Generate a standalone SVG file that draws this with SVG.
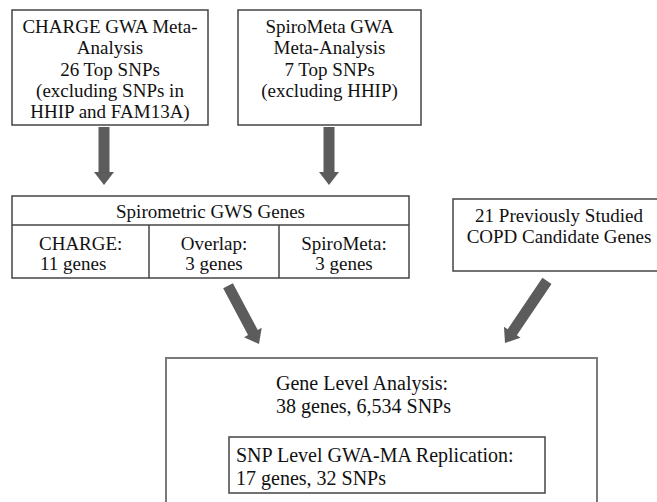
<svg xmlns="http://www.w3.org/2000/svg" width="657" height="502" viewBox="0 0 657 502">
<defs>
<style>
.box{fill:#fff;stroke:#444;stroke-width:1.5}
.box2{fill:#fff;stroke:#7a7a7a;stroke-width:2}
.t{font-family:"Liberation Serif","Times New Roman",serif;font-size:19px;fill:#111}
.tb{font-family:"Liberation Serif","Times New Roman",serif;font-size:20px;fill:#111}
.c{text-anchor:middle}
.arrow{fill:#5c5c5c}
</style>
<polygon id="arr" points="0,0 -10,-13 -5.5,-13 -5.5,-58 5.5,-58 5.5,-13 10,-13"/>
<polygon id="arrL" points="0,0 -10,-13 -5.5,-13 -5.5,-66 5.5,-66 5.5,-13 10,-13"/>
<polygon id="arrM" points="0,0 -10,-13 -5.5,-13 -5.5,-75 5.5,-75 5.5,-13 10,-13"/>
</defs>
<rect width="657" height="502" fill="#fff"/>
<g id="charge">
<rect class="box" x="12" y="10" width="196" height="115"/>
<text class="t c" x="110" y="33">CHARGE GWA Meta-</text>
<text class="t c" x="110" y="54">Analysis</text>
<text class="t c" x="110" y="76">26 Top SNPs</text>
<text class="t c" x="110" y="97">(excluding SNPs in</text>
<text class="t c" x="110" y="118">HHIP and FAM13A)</text>
</g>
<g id="spirometa">
<rect class="box" x="238" y="10" width="183" height="115"/>
<text class="t c" x="329.5" y="33">SpiroMeta GWA</text>
<text class="t c" x="329.5" y="54">Meta-Analysis</text>
<text class="t c" x="329.5" y="76">7 Top SNPs</text>
<text class="t c" x="329.5" y="97">(excluding HHIP)</text>
</g>
<g id="gws">
<rect class="box" x="12" y="196" width="397" height="82"/>
<line x1="12" y1="225" x2="409" y2="225" stroke="#444" stroke-width="1.5"/>
<line x1="149" y1="225" x2="149" y2="278" stroke="#444" stroke-width="1.5"/>
<line x1="279" y1="225" x2="279" y2="278" stroke="#444" stroke-width="1.5"/>
<text class="t c" x="210.5" y="218">Spirometric GWS Genes</text>
<text class="t" x="39" y="250">CHARGE:</text>
<text class="t" x="40" y="270">11 genes</text>
<text class="t c" x="214" y="250">Overlap:</text>
<text class="t c" x="214" y="270">3 genes</text>
<text class="t c" x="344" y="250">SpiroMeta:</text>
<text class="t c" x="344" y="270">3 genes</text>
</g>
<g id="copd">
<rect class="box" x="453" y="199" width="215" height="72"/>
<text class="t c" x="559" y="222">21 Previously Studied</text>
<text class="t c" x="559" y="243">COPD Candidate Genes</text>
</g>
<g id="gene-level">
<rect class="box2" x="166" y="358" width="431" height="160"/>
<text class="tb" x="276" y="390">Gene Level Analysis:</text>
<text class="tb" x="276" y="413">38 genes, 6,534 SNPs</text>
</g>
<g id="snp-level">
<rect class="box" x="229" y="437" width="316" height="56"/>
<text class="tb" x="236" y="462">SNP Level GWA-MA Replication:</text>
<text class="tb" x="236" y="485">17 genes, 32 SNPs</text>
</g>
<g id="connectors" class="arrow">
<use href="#arr" transform="translate(104,185)"/>
<use href="#arr" transform="translate(329,185)"/>
<use href="#arrL" transform="translate(259,344) rotate(-28)"/>
<use href="#arrM" transform="translate(505,343) rotate(34)"/>
</g>
</svg>
